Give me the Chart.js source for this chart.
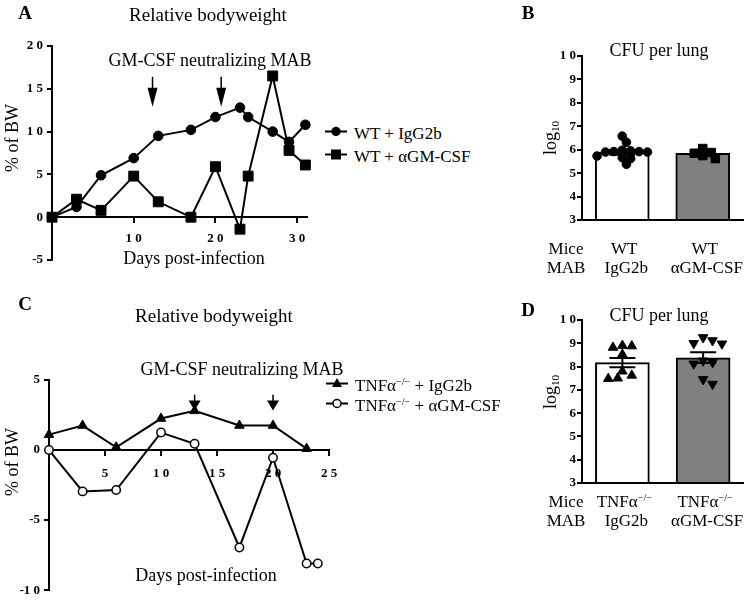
<!DOCTYPE html>
<html>
<head>
<meta charset="utf-8">
<script src="https://cdn.jsdelivr.net/npm/chart.js@4.4.0/dist/chart.umd.min.js"></script>
<style>
  html, body { margin: 0; padding: 0; background: #fff; }
  #fig { position: relative; width: 750px; height: 602px; overflow: hidden;
         font-family: 'Liberation Serif', 'Times New Roman', serif; color: #000; }
  #fig canvas { position: absolute; }
  .t { position: absolute; white-space: nowrap; line-height: 1; transform: translate(-50%, -50%); }
  .l { position: absolute; white-space: nowrap; line-height: 1; transform: translateY(-50%); }
  .rot { transform: translate(-50%, -50%) rotate(-90deg); }
  .letter { font-weight: bold; font-size: 19px; }
  sup { font-size: 60%; position: relative; top: -0.55em; vertical-align: baseline; }
  sub { font-size: 62%; position: relative; top: 0.3em; vertical-align: baseline; }
</style>
</head>
<body>
<div id="fig">
  <canvas id="chartA" width="320" height="290" style="left:0;top:0"></canvas>
  <canvas id="chartB" width="230" height="240" style="left:520px;top:0"></canvas>
  <canvas id="chartC" width="350" height="312" style="left:0;top:290px"></canvas>
  <canvas id="chartD" width="230" height="210" style="left:520px;top:290px"></canvas>
</div>
<script>
// ---- data ----
// A: relative bodyweight, WT mice
const daysA    = [0, 3, 6, 10, 13, 17, 20, 23, 24, 27, 29, 31];
const bwWtIgg  = [0, 1.2, 4.9, 6.9, 9.5, 10.2, 11.7, 12.8, 11.7, 10.0, 8.8, 10.8];
const bwWtAgm  = [0, 2.1, 0.8, 4.8, 1.8, 0, 5.9, -1.4, 4.8, 16.5, 7.8, 6.1];
const xTicksA  = [10, 20, 30];
const yTicksA  = [-5, 0, 5, 10, 15, 20];
const mabDaysA = [12.3, 20.7];

// C: relative bodyweight, TNFa-/- mice
const daysTnfIgg = [0, 3, 6, 10, 13, 17, 20, 23];
const bwTnfIgg   = [1.1, 1.75, 0.2, 2.25, 2.8, 1.75, 1.75, 0.1];
const daysTnfAgm = [0, 3, 6, 10, 13, 17, 20, 23, 24];
const bwTnfAgm   = [0, -2.95, -2.85, 1.25, 0.45, -6.95, -0.55, -8.1, -8.1];
const xTicksC    = [5, 10, 15, 20, 25];
const yTicksC    = [-10, -5, 0, 5];
const mabDaysC   = [13, 20];

// B / D: CFU per lung (log10)
const cfuTicks   = [3, 4, 5, 6, 7, 8, 9, 10];
const miceB      = ['WT', 'WT'];
const mabB       = ['IgG2b', 'αGM-CSF'];
const cfuWtIgg   = [6.58, 6.32, 5.98, 5.95, 5.92, 5.92, 5.9, 5.9, 5.73, 5.66, 5.62, 5.38];
const cfuWtAgm   = [6.05, 5.88, 5.85, 5.75, 5.62];
const meanB      = [5.89, 5.85];
const semB       = [0.1, 0.08];

const miceD      = ['TNFα<sup>−/−</sup>', 'TNFα<sup>−/−</sup>'];
const mabD       = ['IgG2b', 'αGM-CSF'];
const cfuTnfIgg  = [8.9, 8.88, 8.82, 8.52, 7.8, 7.62, 7.5, 7.48];
const cfuTnfAgm  = [9.25, 9.12, 9.0, 8.98, 8.25, 8.18, 8.12, 7.45, 7.25];
const meanD      = [8.17, 8.38];
const semD       = [0.2, 0.23];

// ---- shared setup ----
Chart.defaults.font.family = "'Liberation Serif', 'Times New Roman', serif";
Chart.defaults.color = '#000';
Chart.defaults.animation = false;
Chart.defaults.plugins.legend.display = false;
Chart.defaults.plugins.tooltip.enabled = false;

const fig = document.getElementById('fig');
const tickFont = { size: 13, weight: 'bold' };
const spaced = v => String(v).replace(/(\d)(?=\d)/g, '$1 ');   // Prism-style "1 0"
const fixedTicks = list => scale => { scale.ticks = list.map(v => ({ value: v })); };

function yAxis(min, max, ticks, pad) {
  return {
    min, max,
    afterBuildTicks: fixedTicks(ticks),
    afterFit: s => { s.width = 40; },
    grid: { drawOnChartArea: false, color: '#000', lineWidth: 2, tickLength: 5 },
    border: { color: '#000', width: 2 },
    ticks: { font: tickFont, padding: pad, autoSkip: false, callback: v => spaced(v) },
  };
}

function xLineAxis(max, ticks, pad) {
  return {
    type: 'linear', min: 0, max,
    position: { y: 0 },
    afterBuildTicks: fixedTicks(ticks),
    grid: { drawOnChartArea: false, color: '#000', lineWidth: 2, tickLength: 5 },
    border: { color: '#000', width: 2 },
    ticks: { font: tickFont, padding: pad, autoSkip: false, maxRotation: 0, callback: v => spaced(v) },
  };
}

function lineSet(xs, ys, style) {
  return Object.assign({
    data: xs.map((x, i) => ({ x, y: ys[i] })),
    borderColor: '#000', borderWidth: 2, tension: 0, clip: false,
    pointBackgroundColor: '#000', pointBorderColor: '#000', pointBorderWidth: 1,
  }, style);
}

// simple beeswarm: spread points sideways until they stop overlapping too much
function swarm(values, diam, pxPerY, pxPerX) {
  const placed = [];
  return values.map(v => {
    const py = v * pxPerY;
    let off = 0;
    for (let k = 0; k < 40; k++) {
      const cand = (k % 2 ? 1 : -1) * Math.ceil(k / 2) * diam * 0.5;
      if (placed.every(p => Math.hypot(p.x - cand, p.y - py) >= diam * 0.8)) { off = cand; break; }
    }
    placed.push({ x: off, y: py });
    return off / pxPerX;
  });
}

function dotSet(cat, values, diam, style) {
  const xs = swarm(values, diam, 23.4, 81.5);
  return Object.assign({
    type: 'line', showLine: false, clip: false, order: 0,
    data: values.map((v, i) => ({ x: cat + xs[i], y: v })),
    pointBackgroundColor: '#000', pointBorderColor: '#000', pointBorderWidth: 1,
  }, style);
}

const arrowPlugin = {
  id: 'arrows',
  afterDatasetsDraw(chart, args, o) {
    const { ctx, scales: { x, y } } = chart;
    ctx.save();
    ctx.fillStyle = ctx.strokeStyle = '#000';
    ctx.lineWidth = 1.5;
    o.days.forEach(d => {
      const px = x.getPixelForValue(d);
      const top = y.getPixelForValue(o.from);
      const tip = y.getPixelForValue(o.to);
      ctx.beginPath(); ctx.moveTo(px, top); ctx.lineTo(px, tip - o.head + 1); ctx.stroke();
      ctx.beginPath();
      ctx.moveTo(px - o.half, tip - o.head);
      ctx.lineTo(px + o.half, tip - o.head);
      ctx.lineTo(px, tip);
      ctx.closePath(); ctx.fill();
    });
    ctx.restore();
  }
};

const errorBarPlugin = {
  id: 'errbars',
  afterDatasetDraw(chart, args, o) {
    if (args.index !== 0) return;
    const { ctx, scales: { y } } = chart;
    ctx.save();
    ctx.strokeStyle = '#000';
    ctx.lineWidth = 2;
    args.meta.data.forEach((bar, i) => {
      const hi = y.getPixelForValue(o.mean[i] + o.sem[i]);
      const lo = y.getPixelForValue(o.mean[i] - o.sem[i]);
      ctx.beginPath();
      ctx.moveTo(bar.x, hi); ctx.lineTo(bar.x, lo);
      ctx.moveTo(bar.x - 13, hi); ctx.lineTo(bar.x + 13, hi);
      ctx.moveTo(bar.x - 13, lo); ctx.lineTo(bar.x + 13, lo);
      ctx.stroke();
    });
    ctx.restore();
  }
};

function barChart(id, mean, sem, dotsA, dotsB, padding) {
  return new Chart(document.getElementById(id), {
    type: 'bar',
    data: {
      datasets: [
        {
          order: 2, base: 3, barThickness: 54,
          data: mean.map((m, i) => ({ x: i, y: m })),
          backgroundColor: ['#ffffff', '#808080'],
          borderColor: '#000', borderWidth: 2,
        },
        dotsA, dotsB,
      ],
    },
    options: {
      responsive: false, devicePixelRatio: 1,
      layout: { padding },
      scales: {
        x: {
          type: 'linear', min: -0.5, max: 1.5, offset: false,
          afterFit: s => { s.height = 0; },
          grid: { display: true, drawOnChartArea: false, drawTicks: false, offset: false },
          border: { color: '#000', width: 2 },
          ticks: { display: false },
        },
        y: yAxis(3, 10, cfuTicks, 1),
      },
      plugins: { errbars: { mean, sem } },
    },
    plugins: [errorBarPlugin],
  });
}

// ---- A ----
const chartA = new Chart(document.getElementById('chartA'), {
  type: 'line',
  data: {
    datasets: [
      lineSet(daysA, bwWtIgg, { pointStyle: 'circle', pointRadius: 4.8 }),
      lineSet(daysA, bwWtAgm, { pointStyle: 'rect', pointRadius: 7 }),
    ],
  },
  options: {
    responsive: false, devicePixelRatio: 1,
    layout: { padding: { left: 12, top: 46, right: 13, bottom: 30 } },
    scales: { x: xLineAxis(31.2, xTicksA, 9), y: yAxis(-5, 20, yTicksA, 4) },
    plugins: { arrows: { days: mabDaysA, from: 16.4, to: 12.9, head: 19, half: 5 } },
  },
  plugins: [arrowPlugin],
});

// ---- C ----
const chartC = new Chart(document.getElementById('chartC'), {
  type: 'line',
  data: {
    datasets: [
      lineSet(daysTnfIgg, bwTnfIgg, { pointStyle: 'triangle', pointRadius: 5.5 }),
      lineSet(daysTnfAgm, bwTnfAgm, { pointStyle: 'circle', pointRadius: 4.2,
        pointBackgroundColor: '#fff', pointBorderWidth: 1.5 }),
    ],
  },
  options: {
    responsive: false, devicePixelRatio: 1,
    layout: { padding: { left: 9, top: 90, right: 21, bottom: 9 } },
    scales: { x: xLineAxis(25, xTicksC, 11), y: yAxis(-10, 5, yTicksC, 4) },
    plugins: { arrows: { days: mabDaysC, from: 3.95, to: 2.82, head: 10, half: 6 } },
  },
  plugins: [arrowPlugin],
});

// ---- B ----
const chartB = barChart('chartB', meanB, semB,
  dotSet(0, cfuWtIgg, 8.5, { pointStyle: 'circle', pointRadius: 4.3 }),
  dotSet(1, cfuWtAgm, 8.5, { pointStyle: 'rect', pointRadius: 6 }),
  { left: 22, top: 56, right: 5, bottom: 20 });

// ---- D ----
const chartD = barChart('chartD', meanD, semD,
  dotSet(0, cfuTnfIgg, 9.5, { pointStyle: 'triangle', pointRadius: 5.5 }),
  dotSet(1, cfuTnfAgm, 9.5, { pointStyle: 'triangle', pointRadius: 5.5, rotation: 180 }),
  { left: 22, top: 30, right: 5, bottom: 17 });

// ---- text ----
function put(html, x, y, size, cls) {
  const d = document.createElement('div');
  d.className = cls || 't';
  d.innerHTML = html;
  d.style.left = x + 'px';
  d.style.top = y + 'px';
  if (size) d.style.fontSize = size + 'px';
  fig.appendChild(d);
  return d;
}

function legendRow(x, y, marker, html) {
  const shapes = {
    circle: '<circle cx="11" cy="7" r="4.7" fill="#000"/>',
    rect: '<rect x="6" y="2" width="10" height="10" fill="#000"/>',
    triangle: '<polygon points="11,1.5 16,10.5 6,10.5" fill="#000"/>',
    open: '<circle cx="11" cy="7" r="4" fill="#fff" stroke="#000" stroke-width="1.5"/>',
  };
  const svg = `<svg width="22" height="14" viewBox="0 0 22 14"><line x1="0" y1="7" x2="22" y2="7" stroke="#000" stroke-width="2"/>${shapes[marker]}</svg>`;
  put(svg, x, y, null, 'l');
  put(html, x + 29, y, 17, 'l');
}

function catLabels(chart, canvasLeft, mice, mab, y1, y2) {
  put('Mice', 566, y1, 17);
  put('MAB', 566, y2, 17);
  mice.forEach((m, i) => {
    const cx = canvasLeft + chart.scales.x.getPixelForValue(i);
    put(m, cx + 2, y1, 17);
    put(mab[i], cx + 4, y2, 17);
  });
}

// panel A
put('A', 25, 12, null, 't letter');
put('Relative bodyweight', 208, 14, 19);
put('GM-CSF neutralizing MAB', 210, 60, 18);
put('% of BW', 12, 138, 18, 't rot');
put('Days post-infection', 194, 258, 18);
legendRow(325, 133, 'circle', 'WT + IgG2b');
legendRow(325, 156, 'rect', 'WT + αGM-CSF');

// panel B
put('B', 528, 12, null, 't letter');
put('CFU per lung', 659, 50, 18);
put('log<sub>10</sub>', 550, 138, 18, 't rot');
catLabels(chartB, 520, miceB, mabB, 248, 267);

// panel C
put('C', 25, 303, null, 't letter');
put('Relative bodyweight', 214, 315, 19);
put('GM-CSF neutralizing MAB', 242, 369, 18);
put('% of BW', 12, 462, 18, 't rot');
put('Days post-infection', 206, 575, 18);
legendRow(326, 385, 'triangle', 'TNFα<sup>−/−</sup> + IgG2b');
legendRow(326, 405, 'open', 'TNFα<sup>−/−</sup> + αGM-CSF');

// panel D
put('D', 528, 309, null, 't letter');
put('CFU per lung', 659, 315, 18);
put('log<sub>10</sub>', 550, 392, 18, 't rot');
catLabels(chartD, 520, miceD, mabD, 501, 520);
</script>
</body>
</html>
